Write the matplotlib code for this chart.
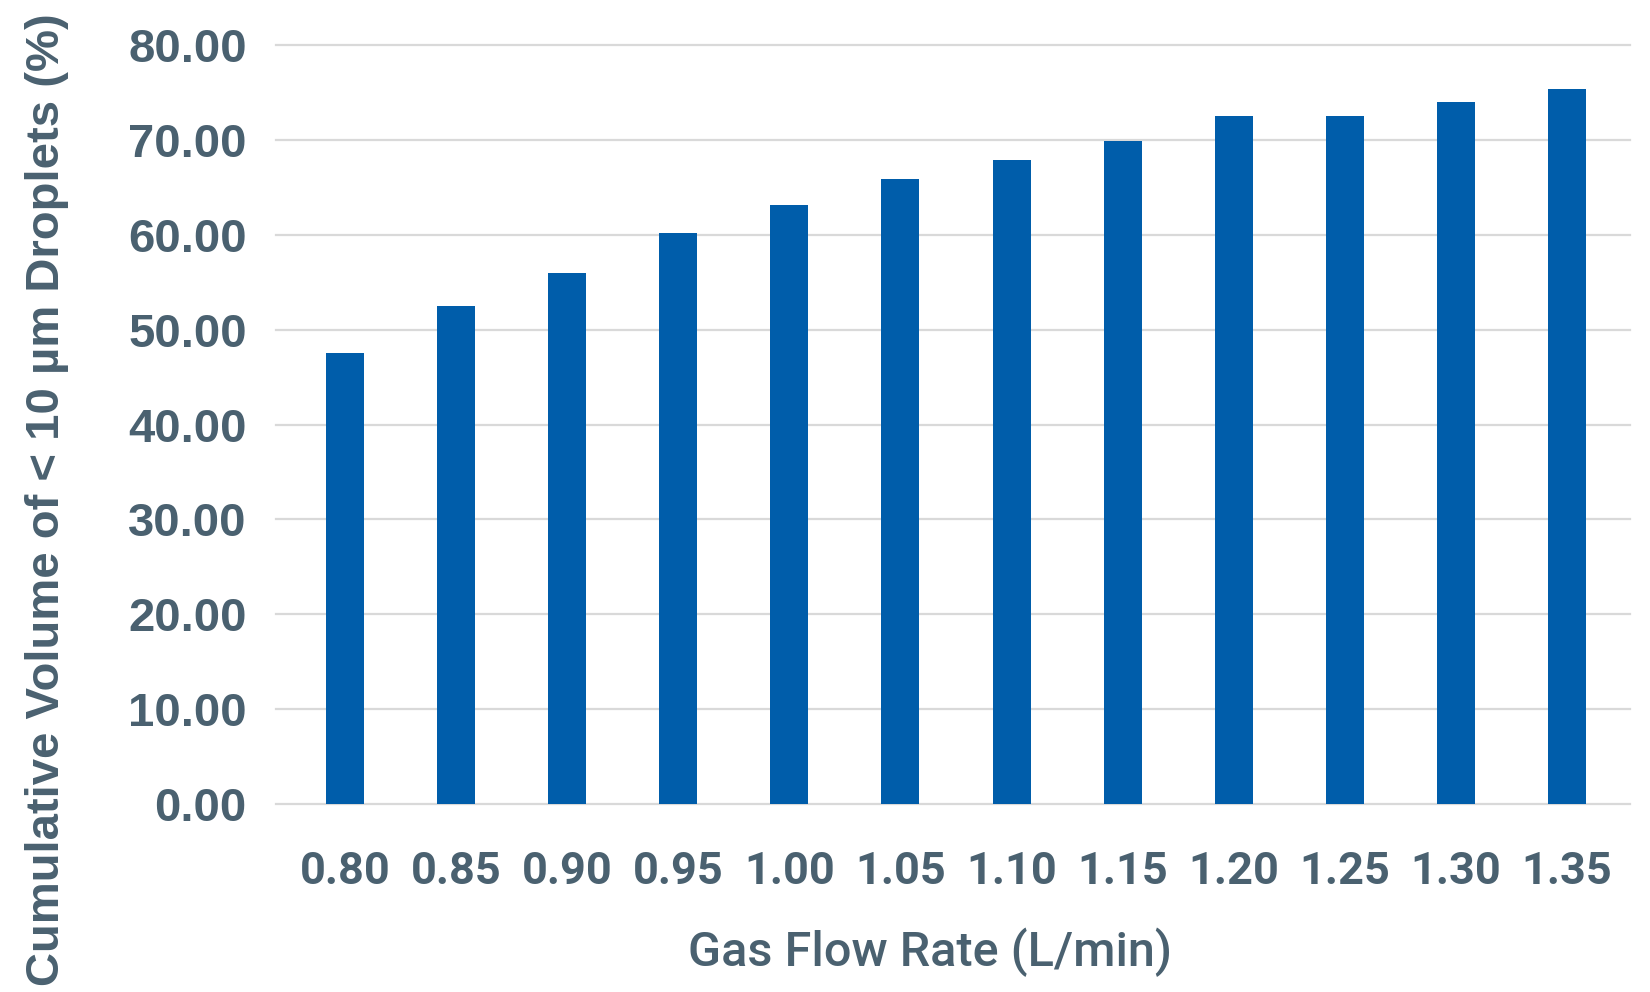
import matplotlib
matplotlib.use('Agg')
import matplotlib.pyplot as plt

# Gas flow rate vs cumulative volume of small droplets
flow_rates = ['0.80', '0.85', '0.90', '0.95', '1.00', '1.05',
              '1.10', '1.15', '1.20', '1.25', '1.30', '1.35']
volume = [47.5, 52.5, 56.0, 60.2, 63.1, 65.9,
          67.9, 69.9, 72.5, 72.5, 74.0, 75.4]
y_ticks = [0, 10, 20, 30, 40, 50, 60, 70, 80]

text_color = '#4A6170'
bar_color = '#005DAA'

fig = plt.figure(figsize=(16.5, 9.92), dpi=100)
ax = fig.add_axes([276 / 1650, 1 - 804 / 992, 1354 / 1650, 759 / 992])

x = list(range(len(flow_rates)))
ax.bar(x, volume, width=0.342, color=bar_color, zorder=3)

ax.set_ylim(0, 80)
ax.set_xlim(-0.621, 11.567)
ax.set_yticks(y_ticks)
ax.set_yticklabels(['%.2f' % v for v in y_ticks],
                   fontfamily='Liberation Sans', fontweight='bold',
                   fontsize=34, color=text_color)
ax.set_xticks(x)
ax.set_xticklabels(flow_rates, fontfamily='Roboto', fontweight='bold',
                   fontsize=32.5, color=text_color)
ax.tick_params(axis='y', length=0, pad=21)
ax.tick_params(axis='x', length=0, pad=34)

ax.grid(axis='y', color='#D9D9D9', linewidth=1.6, zorder=0)
for line in ax.get_ygridlines():
    line.set_clip_on(False)
ax.set_axisbelow(True)
for s in ax.spines.values():
    s.set_visible(False)

fig.text(930 / 1650, 1 - 952 / 992, 'Gas Flow Rate (L/min)',
         ha='center', va='center', fontfamily='Roboto', fontweight='medium',
         fontsize=35, color=text_color)
fig.text(47 / 1650, 1 - 500 / 992, 'Cumulative Volume of < 10 µm Droplets (%)',
         ha='center', va='center', rotation=90, fontfamily='Liberation Sans',
         fontweight='bold', fontsize=34, color=text_color)

fig.savefig('out.png', dpi=100, facecolor='white')
